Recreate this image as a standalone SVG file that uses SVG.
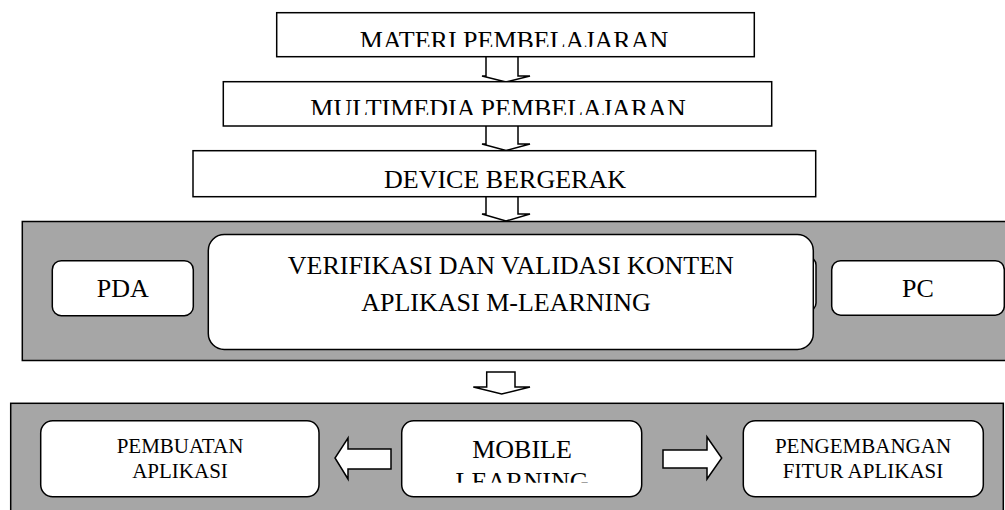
<svg xmlns="http://www.w3.org/2000/svg" width="1005" height="510" viewBox="0 0 1005 510">
<style>
.box{fill:#fff;stroke:#000;stroke-width:1.5}
.panel{fill:#a6a6a6;stroke:#000;stroke-width:1.5}
.arr{fill:#fff;stroke:#000;stroke-width:1.5;stroke-linejoin:miter}
.t{font-family:"Liberation Serif","Times New Roman",serif;fill:#000;text-anchor:middle}
.big{font-size:26px}
.sm{font-size:21px}
</style>
<defs>
<clipPath id="clipMateri"><rect x="270" y="10" width="490" height="37"/></clipPath>
<clipPath id="clipMulti"><rect x="220" y="80" width="560" height="35"/></clipPath>
<clipPath id="clipMobile"><rect x="400" y="420" width="245" height="62.7"/></clipPath>
</defs>
<rect width="1005" height="510" fill="#fff"/>

<g id="connectors">
<polygon class="arr" points="486,50 518,50 518,76 530,76 506,82 482,76 486,76"/>
<polygon class="arr" points="486,120 518,120 518,144 530,144 506,150.5 482,144 486,144"/>
<polygon class="arr" points="486,190 518,190 518,214 530,214 506,221 482,214 486,214"/>
</g>

<g id="materi">
<rect class="box" x="276.7" y="12.7" width="477.6" height="44"/>
<text class="t big" x="514" y="48.5" clip-path="url(#clipMateri)">MATERI PEMBELAJARAN</text>
</g>
<g id="multimedia">
<rect class="box" x="223.3" y="81.7" width="548.4" height="44.3"/>
<text class="t big" x="498" y="116.5" clip-path="url(#clipMulti)">MULTIMEDIA PEMBELAJARAN</text>
</g>
<g id="device">
<rect class="box" x="193" y="150.7" width="622.7" height="46"/>
<text class="t big" x="505" y="188.3">DEVICE BERGERAK</text>
</g>

<g id="panel1">
<rect class="panel" x="22.3" y="221.5" width="1000" height="139"/>
</g>
<g id="hidden">
<rect class="box" x="700" y="257" width="116" height="54" rx="8"/>
</g>
<g id="verifikasi">
<rect class="box" x="208.3" y="234.5" width="605" height="115" rx="16"/>
<text class="t big" x="510.8" y="274">VERIFIKASI DAN VALIDASI KONTEN</text>
<text class="t big" x="506" y="311">APLIKASI M-LEARNING</text>
</g>
<g id="pda">
<rect class="box" x="52.3" y="260.7" width="141" height="55" rx="9"/>
<text class="t big" x="122.8" y="296.7">PDA</text>
</g>
<g id="pc">
<rect class="box" x="831.7" y="260.7" width="172.6" height="54.5" rx="9"/>
<text class="t big" x="918" y="296.7">PC</text>
</g>

<g id="connectors2">
<polygon class="arr" points="486.7,372 515,372 515,387 530,387 501.7,394 473.3,387 486.7,387"/>
</g>

<g id="panel2">
<rect class="panel" x="10.7" y="403.3" width="992.6" height="120"/>
</g>
<g id="pembuatan">
<rect class="box" x="40.7" y="420.7" width="278.3" height="76" rx="12"/>
<text class="t sm" x="180" y="453.3">PEMBUATAN</text>
<text class="t sm" x="180" y="478.3">APLIKASI</text>
</g>
<g id="mobile">
<rect class="box" x="401.7" y="420.7" width="240" height="76" rx="12"/>
<text class="t big" x="522" y="458" clip-path="url(#clipMobile)">MOBILE</text>
<text class="t big" x="522" y="489.5" clip-path="url(#clipMobile)">LEARNING</text>
</g>
<g id="pengembangan">
<rect class="box" x="743.3" y="420.7" width="240" height="76" rx="12"/>
<text class="t sm" x="863" y="453.3">PENGEMBANGAN</text>
<text class="t sm" x="863" y="478.3">FITUR APLIKASI</text>
</g>
<g id="connectors3">
<polygon class="arr" points="391,449 348,449 348,438 335,458 348,479 348,469 391,469"/>
<polygon class="arr" points="663,450 707,450 707,437 721.7,458 707,479 707,468 663,468"/>
</g>
</svg>
